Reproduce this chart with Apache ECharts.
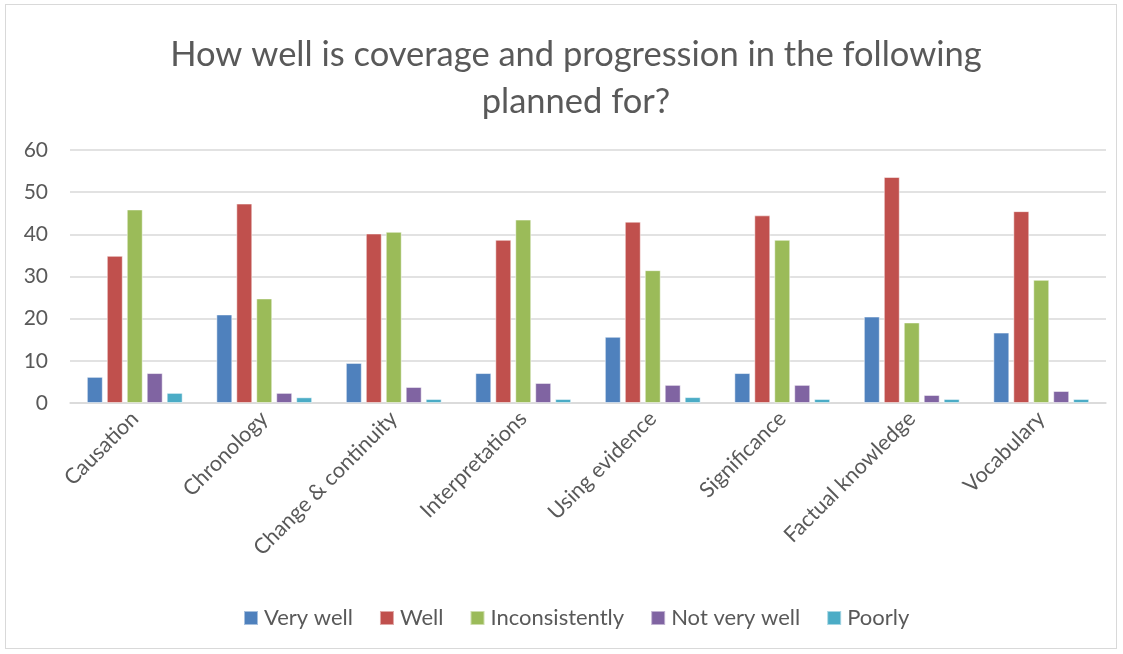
<!DOCTYPE html>
<html>
<head>
<meta charset="utf-8">
<script src="https://cdn.jsdelivr.net/npm/echarts@6/dist/echarts.min.js"></script>
<style>
  html, body { margin: 0; padding: 0; background: #fff; }
  #frame { position: absolute; left: 5px; top: 4px; width: 1112px; height: 645px; border: 1px solid #D9D9D9; box-sizing: border-box; }
  #chart { width: 1123px; height: 654px; position: absolute; left: 0; top: 0; }
</style>
</head>
<body>
<div id="frame"></div>
<div id="chart"></div>
<script>
const categories = ['Causation', 'Chronology', 'Change & continuity', 'Interpretations', 'Using evidence', 'Significance', 'Factual knowledge', 'Vocabulary'];
const veryWell = [6.2, 21.0, 9.5, 7.1, 15.7, 7.1, 20.5, 16.7];
const well = [34.9, 47.3, 40.2, 38.7, 43.0, 44.5, 53.6, 45.5];
const inconsistently = [45.9, 24.8, 40.6, 43.5, 31.5, 38.7, 19.1, 29.2];
const notVeryWell = [7.1, 2.4, 3.8, 4.75, 4.3, 4.3, 1.9, 2.85];
const poorly = [2.4, 1.35, 0.95, 0.95, 1.4, 0.95, 0.95, 0.95];
const yTicks = { min: 0, max: 60, interval: 10 };

const seriesDefs = [
  { name: 'Very well', data: veryWell, color: '#4F81BD' },
  { name: 'Well', data: well, color: '#C0504D' },
  { name: 'Inconsistently', data: inconsistently, color: '#9BBB59' },
  { name: 'Not very well', data: notVeryWell, color: '#8064A2' },
  { name: 'Poorly', data: poorly, color: '#4BACC6' }
];

const font = 'Lato, "Liberation Sans", sans-serif';
const chart = echarts.init(document.getElementById('chart'));
chart.setOption({
  animation: false,
  textStyle: { fontFamily: font },
  title: {
    text: 'How well is coverage and progression in the following\nplanned for?',
    left: 571, top: 26, textAlign: 'center',
    textStyle: { fontSize: 34.5, fontWeight: 'normal', color: '#595959', lineHeight: 47, fontFamily: font }
  },
  legend: {
    bottom: 20, left: 238,
    itemWidth: 14, itemHeight: 14, itemGap: 26,
    icon: 'rect',
    textStyle: { fontSize: 22, color: '#595959', fontFamily: font, padding: [0, 0, 0, 1] },
    data: seriesDefs.map(s => s.name)
  },
  grid: { left: 70, right: 17, top: 150, bottom: 251, containLabel: false },
  xAxis: {
    type: 'category', data: categories,
    axisLine: { lineStyle: { color: '#D9D9D9', width: 1.5 } },
    axisTick: { show: false },
    axisLabel: { rotate: 45, fontSize: 21.5, color: '#595959', margin: 12, interval: 0, fontFamily: font }
  },
  yAxis: {
    type: 'value', min: yTicks.min, max: yTicks.max, interval: yTicks.interval,
    axisLine: { show: false }, axisTick: { show: false },
    splitLine: { lineStyle: { color: '#D9D9D9', width: 1.5 } },
    axisLabel: { fontSize: 21, color: '#595959', margin: 22, fontFamily: font }
  },
  series: seriesDefs.map(s => ({
    name: s.name, type: 'bar', data: s.data,
    barGap: '25%', barCategoryGap: '26%',
    itemStyle: { color: s.color, borderColor: 'rgba(255,255,255,0.5)', borderWidth: 1 }
  }))
});
</script>
</body>
</html>
